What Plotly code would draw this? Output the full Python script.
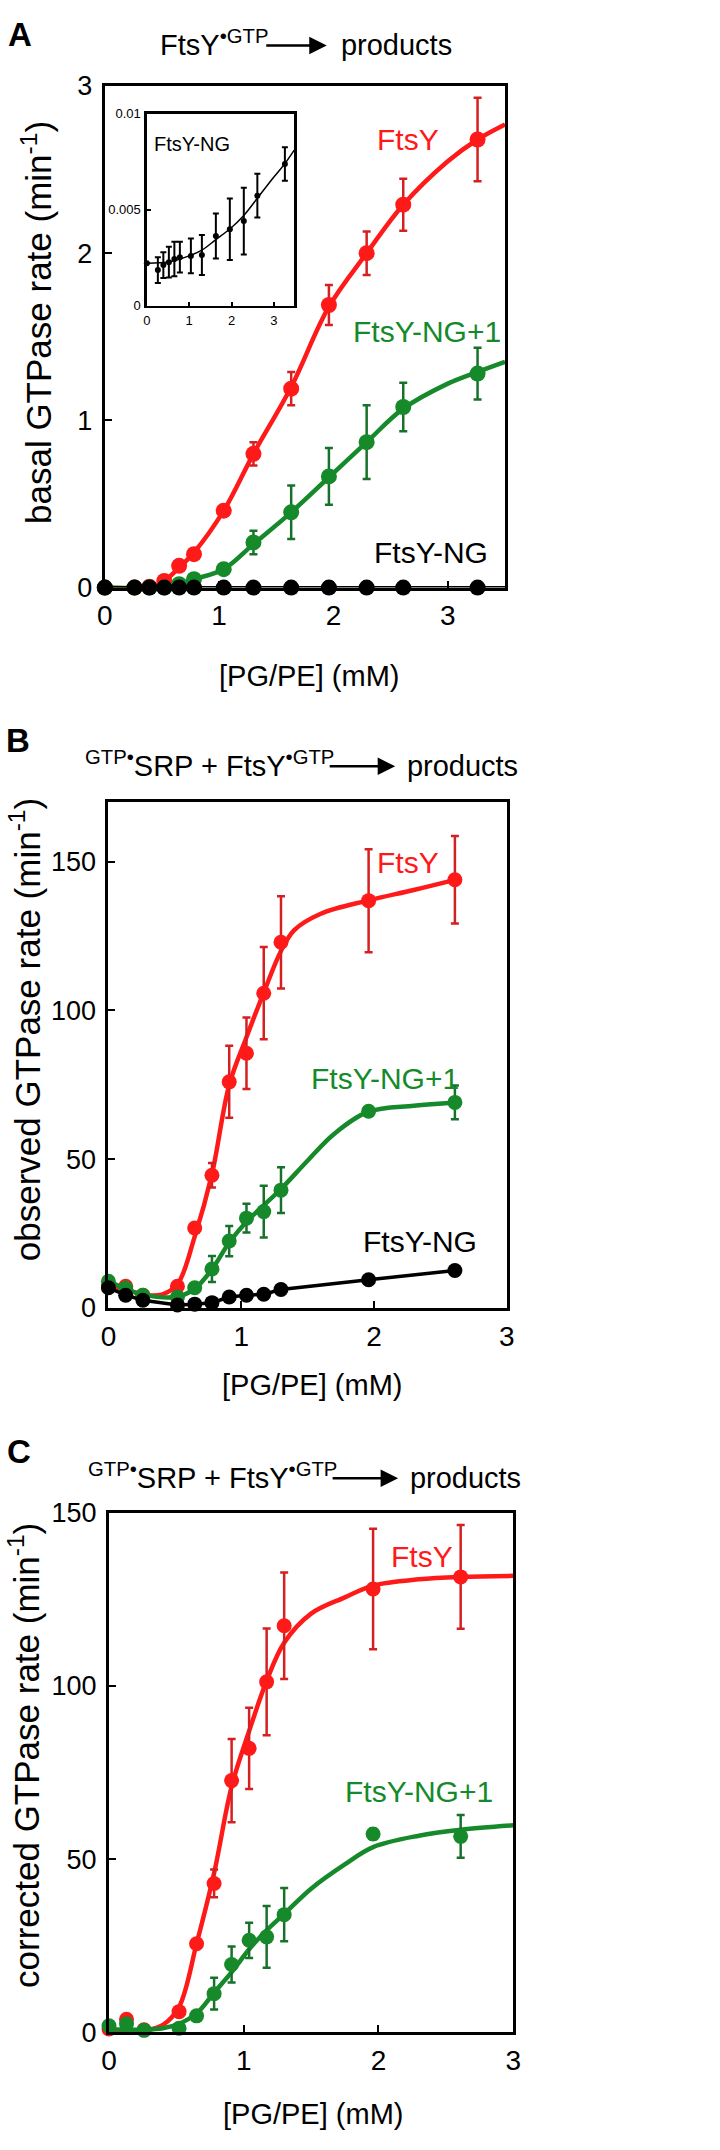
import plotly.graph_objects as go

# ---------------- data ----------------
# Panel A (basal GTPase rate)
A_x = [0, 0.26, 0.39, 0.52, 0.65, 0.78, 1.04, 1.30, 1.63, 1.96, 2.29, 2.61, 3.26]
A_ftsy = [0, 0, 0.005, 0.04, 0.13, 0.20, 0.46, 0.80, 1.19, 1.69, 2.00, 2.29, 2.68]
A_ftsy_err = [0, 0, 0, 0, 0, 0, 0.02, 0.07, 0.10, 0.12, 0.13, 0.155, 0.25]
A_ng1 = [0, 0, 0, 0, 0.02, 0.05, 0.11, 0.27, 0.45, 0.665, 0.87, 1.08, 1.28]
A_ng1_err = [0, 0, 0, 0, 0, 0.01, 0.02, 0.07, 0.16, 0.17, 0.22, 0.145, 0.155]
A_ng = [0, 0, 0, 0, 0, 0, 0, 0, 0, 0, 0, 0, 0]

fitA_red_x = [0, 0.39, 0.52, 0.65, 0.78, 1.04, 1.30, 1.63, 1.96, 2.29, 2.61, 3.0, 3.26, 3.5]
fitA_red_y = [0, 0, 0.04, 0.12, 0.21, 0.46, 0.80, 1.20, 1.68, 2.00, 2.29, 2.55, 2.68, 2.77]
fitA_green_x = [0, 0.52, 0.65, 0.78, 1.04, 1.30, 1.63, 1.96, 2.29, 2.61, 3.0, 3.26, 3.5]
fitA_green_y = [0, 0, 0.02, 0.05, 0.11, 0.26, 0.45, 0.66, 0.87, 1.07, 1.22, 1.29, 1.35]
fitA_black_x = [0, 3.5]
fitA_black_y = [0, 0]

# Inset (FtsY-NG, panel A)
ins_x = A_x
ins_y = [0.00222, 0.00186, 0.00212, 0.00227, 0.00244, 0.00253, 0.00260, 0.00265,
         0.00364, 0.00398, 0.00441, 0.00573, 0.00738]
ins_err = [0, 0.00067, 0.00067, 0.0008, 0.0009, 0.0008, 0.0009, 0.00104,
           0.00117, 0.0016, 0.00174, 0.00114, 0.00087]
ins_fit_x = [0, 0.5, 1.0, 1.3, 1.63, 1.96, 2.29, 2.61, 3.0, 3.26, 3.48]
ins_fit_y = [0.00222, 0.00228, 0.0026, 0.0029, 0.00345, 0.0040, 0.0047, 0.0056, 0.0067, 0.0074, 0.0081]

# Panel B (observed GTPase rate)
B_x = [0, 0.13, 0.26, 0.52, 0.65, 0.78, 0.91, 1.04, 1.17, 1.30, 1.96, 2.61]
B_ftsy = [7.5, 7.3, 4.3, 7.3, 26.9, 44.6, 76.0, 85.6, 105.8, 122.9, 136.9, 143.9]
B_ftsy_err = [0, 0, 0, 0, 0, 4.1, 12.1, 12.0, 15.5, 15.5, 17.3, 14.7]
B_ng1 = [9.0, 6.7, 4.3, 3.7, 6.8, 13.1, 22.5, 30.2, 32.4, 39.6, 66.1, 69.1]
B_ng1_err = [0, 0, 0, 0, 0, 4.4, 5.1, 4.8, 8.7, 7.7, 0, 5.7]
B_ng = [6.8, 4.3, 2.6, 1.0, 1.3, 1.8, 3.7, 4.3, 4.6, 6.2, 9.5, 12.6]

fitB_red_x = [0, 0.13, 0.26, 0.40, 0.52, 0.65, 0.78, 0.91, 1.04, 1.17, 1.30, 1.40, 1.60, 1.96, 2.30, 2.61]
fitB_red_y = [7.5, 6.2, 4.5, 4.5, 8, 24, 45, 75, 91, 106, 120, 127, 132.5, 137, 140.5, 143.9]
fitB_green_x = [0, 0.13, 0.26, 0.52, 0.65, 0.78, 0.91, 1.04, 1.17, 1.30, 1.50, 1.70, 1.96, 2.30, 2.61]
fitB_green_y = [9, 6.5, 4.5, 3.8, 6.5, 13, 22, 29, 34.5, 40, 49.5, 58.5, 66, 68, 69.1]

# Panel C (corrected GTPase rate)
C_x = [0, 0.13, 0.26, 0.52, 0.65, 0.78, 0.91, 1.04, 1.17, 1.30, 1.96, 2.61]
C_ftsy = [1.0, 3.8, 0.8, 6.0, 25.6, 43.0, 72.7, 82.0, 101.2, 117.4, 128.0, 131.5]
C_ftsy_err = [0, 0, 0, 0, 0, 4.0, 12.0, 11.7, 15.4, 15.4, 17.4, 15.0]
C_ng1 = [1.9, 2.5, 0.6, 1.2, 4.8, 11.2, 19.6, 26.6, 27.6, 34.0, 57.3, 56.6]
C_ng1_err = [0, 0, 0, 0, 0, 4.6, 5.2, 5.1, 8.9, 7.7, 1.5, 6.2]

fitC_red_x = [0, 0.26, 0.40, 0.52, 0.65, 0.78, 0.91, 1.04, 1.17, 1.30, 1.50, 1.75, 1.96, 2.30, 2.61, 3.0]
fitC_red_y = [0, 0.5, 2.2, 7.4, 25.6, 46, 71, 87, 101.5, 112.5, 120.9, 125.6, 129, 130.8, 131.5, 131.8]
fitC_green_x = [0, 0.26, 0.40, 0.52, 0.65, 0.78, 0.91, 1.04, 1.17, 1.30, 1.50, 1.75, 1.96, 2.30, 2.61, 3.0]
fitC_green_y = [0.9, 0.8, 1.2, 2.5, 5.5, 11.5, 17.4, 24.0, 29.5, 34.2, 41.5, 48.5, 53.5, 56.8, 58.5, 59.8]

# Text
title_A = "FtsY<sup>•GTP</sup>"
title_BC = "<sup>GTP•</sup>SRP + FtsY<sup>•GTP</sup>"
title_right = "products"
xlabel = "[PG/PE] (mM)"
ylabel_A = "basal GTPase rate (min<sup>-1</sup>)"
ylabel_B = "observed GTPase rate (min<sup>-1</sup>)"
ylabel_C = "corrected GTPase rate (min<sup>-1</sup>)"

# ---------------- style ----------------
W, H = 720, 2150
RED = "#ff1a1a"
RED_BAR = "#d42020"
GREEN = "#168a2a"
GREEN_BAR = "#17712a"
BLACK = "#000000"
SANS = "Liberation Sans, Arial, Helvetica, sans-serif"
GAP = "&nbsp;" * 9


def px(x):
    return x / W


def py(y):
    return 1 - y / H


fig = go.Figure()


def fit(xs, ys, color, width, xa, ya, shape="spline"):
    fig.add_trace(go.Scatter(x=xs, y=ys, mode="lines", xaxis=xa, yaxis=ya,
                             line=dict(color=color, width=width, shape=shape, smoothing=1.0),
                             hoverinfo="skip", showlegend=False, cliponaxis=False))


def pts(xs, ys, err, color, barcolor, size, xa, ya, barw=2.5, capw=4):
    fig.add_trace(go.Scatter(x=xs, y=ys, mode="markers", xaxis=xa, yaxis=ya,
                             marker=dict(color=color, size=size, line=dict(width=0)),
                             error_y=(dict(type="data", array=err, visible=True, color=barcolor,
                                           thickness=barw, width=capw) if err is not None else None),
                             showlegend=False, cliponaxis=False))


# Panel A
fit(fitA_red_x, fitA_red_y, RED, 4.5, "x", "y")
pts(A_x, A_ftsy, A_ftsy_err, RED, RED_BAR, 16, "x", "y")
fit(fitA_green_x, fitA_green_y, GREEN, 4.5, "x", "y")
pts(A_x, A_ng1, A_ng1_err, GREEN, GREEN_BAR, 16, "x", "y")
fit(fitA_black_x, fitA_black_y, BLACK, 3, "x", "y", shape="linear")
pts(A_x, A_ng, None, BLACK, BLACK, 16, "x", "y")

# Inset
fit(ins_fit_x, ins_fit_y, BLACK, 1.5, "x2", "y2")
pts(ins_x, ins_y, ins_err, BLACK, BLACK, 6, "x2", "y2", barw=2, capw=3)

# Panel B
fit(fitB_red_x, fitB_red_y, RED, 4.5, "x3", "y3")
pts(B_x, B_ftsy, B_ftsy_err, RED, RED_BAR, 15, "x3", "y3")
fit(fitB_green_x, fitB_green_y, GREEN, 4.5, "x3", "y3")
pts(B_x, B_ng1, B_ng1_err, GREEN, GREEN_BAR, 15, "x3", "y3")
fit(B_x, B_ng, BLACK, 3.5, "x3", "y3", shape="linear")
pts(B_x, B_ng, None, BLACK, BLACK, 15, "x3", "y3")

# Panel C
fit(fitC_red_x, fitC_red_y, RED, 4.5, "x4", "y4")
pts(C_x, C_ftsy, C_ftsy_err, RED, RED_BAR, 15, "x4", "y4")
fit(fitC_green_x, fitC_green_y, GREEN, 4.5, "x4", "y4")
pts(C_x, C_ng1, C_ng1_err, GREEN, GREEN_BAR, 15, "x4", "y4")


# ---------------- axes ----------------
def xax(dom, rng, anchor, tickvals, fsize=28, lw=3, standoff=1, ticklen=7):
    return dict(domain=[px(dom[0]), px(dom[1])], range=rng, anchor=anchor,
                showline=True, linecolor="black", linewidth=lw, mirror=True,
                ticks="inside", ticklen=ticklen, tickwidth=2, tickcolor="black",
                tickvals=tickvals, showgrid=False, zeroline=False,
                tickfont=dict(family=SANS, size=fsize, color="black"),
                ticklabelstandoff=standoff, fixedrange=True)


def yax(dom, rng, anchor, tickvals, ticktext=None, fsize=27, lw=3, standoff=4, ticklen=7):
    d = dict(domain=[py(dom[1]), py(dom[0])], range=rng, anchor=anchor,
             showline=True, linecolor="black", linewidth=lw, mirror=True,
             ticks="inside", ticklen=ticklen, tickwidth=2, tickcolor="black",
             tickvals=tickvals, showgrid=False, zeroline=False,
             tickfont=dict(family=SANS, size=fsize, color="black"),
             ticklabelstandoff=standoff, fixedrange=True)
    if ticktext is not None:
        d["ticktext"] = ticktext
    return d


fig.update_layout(
    width=W, height=H,
    margin=dict(l=0, r=0, t=0, b=0),
    paper_bgcolor="white", plot_bgcolor="rgba(0,0,0,0)",
    showlegend=False,
    xaxis=xax((99, 508.3), [0, 3.5], "y", [0, 1, 2, 3]),
    yaxis=yax((72, 580.7), [0, 3], "x", [0, 1, 2, 3]),
    xaxis2=xax((142, 292.7), [0, 3.48], "y2", [0, 1, 2, 3], fsize=13, lw=2.5, standoff=1, ticklen=4),
    yaxis2=yax((100, 295), [0, 0.01], "x2", [0, 0.005, 0.01], ["0", "0.005", "0.01"],
               fsize=13, lw=2.5, standoff=1, ticklen=4),
    xaxis3=xax((102.7, 510), [0, 3], "y3", [0, 1, 2, 3]),
    yaxis3=yax((798.3, 1311.3), [0, 170], "x3", [0, 50, 100, 150]),
    xaxis4=xax((103.3, 516.7), [0, 3], "y4", [0, 1, 2, 3]),
    yaxis4=yax((1519, 2046), [0, 150], "x4", [0, 50, 100, 150]),
)

ann = []


def text(x, y, s, size, color="black", xref="paper", yref="paper",
         xanchor="center", yanchor="middle", angle=0):
    ann.append(dict(x=x, y=y, xref=xref, yref=yref, text=s, showarrow=False,
                    font=dict(family=SANS, size=size, color=color),
                    xanchor=xanchor, yanchor=yanchor, textangle=angle))


def arrow(x0, x1, y):
    ann.append(dict(x=px(x1), y=py(y), xref="paper", yref="paper", text="",
                    showarrow=True, ax=-(x1 - x0), ay=0, axref="pixel", ayref="pixel",
                    arrowhead=2, arrowsize=1.4, arrowwidth=2.5, arrowcolor="black"))


# Panel letters
text(px(12), py(20), "<b>A</b>", 33)
text(px(10), py(736), "<b>B</b>", 33)
text(px(11), py(1457), "<b>C</b>", 33)

# Titles (text with a gap for the reaction arrow)
text(px(153), py(28), title_A + GAP + title_right, 29, xanchor="left")
arrow(264, 326, 31)
text(px(77), py(760), title_BC + GAP + title_right, 29, xanchor="left")
arrow(329, 396, 762)
text(px(80), py(1482), title_BC + GAP + title_right, 29, xanchor="left")
arrow(332, 399, 1484)

# Axis titles
text(px(307.5), py(670), xlabel, 29)
text(px(311), py(1389), xlabel, 29)
text(px(312), py(2129), xlabel, 29)
text(px(29), py(312), ylabel_A, 35, angle=-90)
text(px(17), py(1029), ylabel_B, 35, angle=-90)
text(px(17), py(1765), ylabel_C, 35, angle=-90)

# Series labels
text(2.65, 2.68, "FtsY", 30, RED, xref="x", yref="y")
text(2.82, 1.53, "FtsY-NG+1", 30, GREEN, xref="x", yref="y")
text(2.85, 0.207, "FtsY-NG", 30, BLACK, xref="x", yref="y")
text(1.07, 0.0084, "FtsY-NG", 20, BLACK, xref="x2", yref="y2")

text(2.26, 149.7, "FtsY", 30, RED, xref="x3", yref="y3")
text(2.085, 77.2, "FtsY-NG+1", 30, GREEN, xref="x3", yref="y3")
text(2.35, 22.3, "FtsY-NG", 30, BLACK, xref="x3", yref="y3")

text(2.32, 137.5, "FtsY", 30, RED, xref="x4", yref="y4")
text(2.30, 69.5, "FtsY-NG+1", 30, GREEN, xref="x4", yref="y4")

fig.update_layout(annotations=ann)

fig.write_html("out.html", config={"displayModeBar": False, "staticPlot": True})

# remove the browser's default page margin so the figure sits at the page origin
with open("out.html", "r", encoding="utf-8") as f:
    html = f.read()
html = html.replace("<head>", "<head><style>html,body{margin:0;padding:0;overflow:hidden;}</style>", 1)
with open("out.html", "w", encoding="utf-8") as f:
    f.write(html)
